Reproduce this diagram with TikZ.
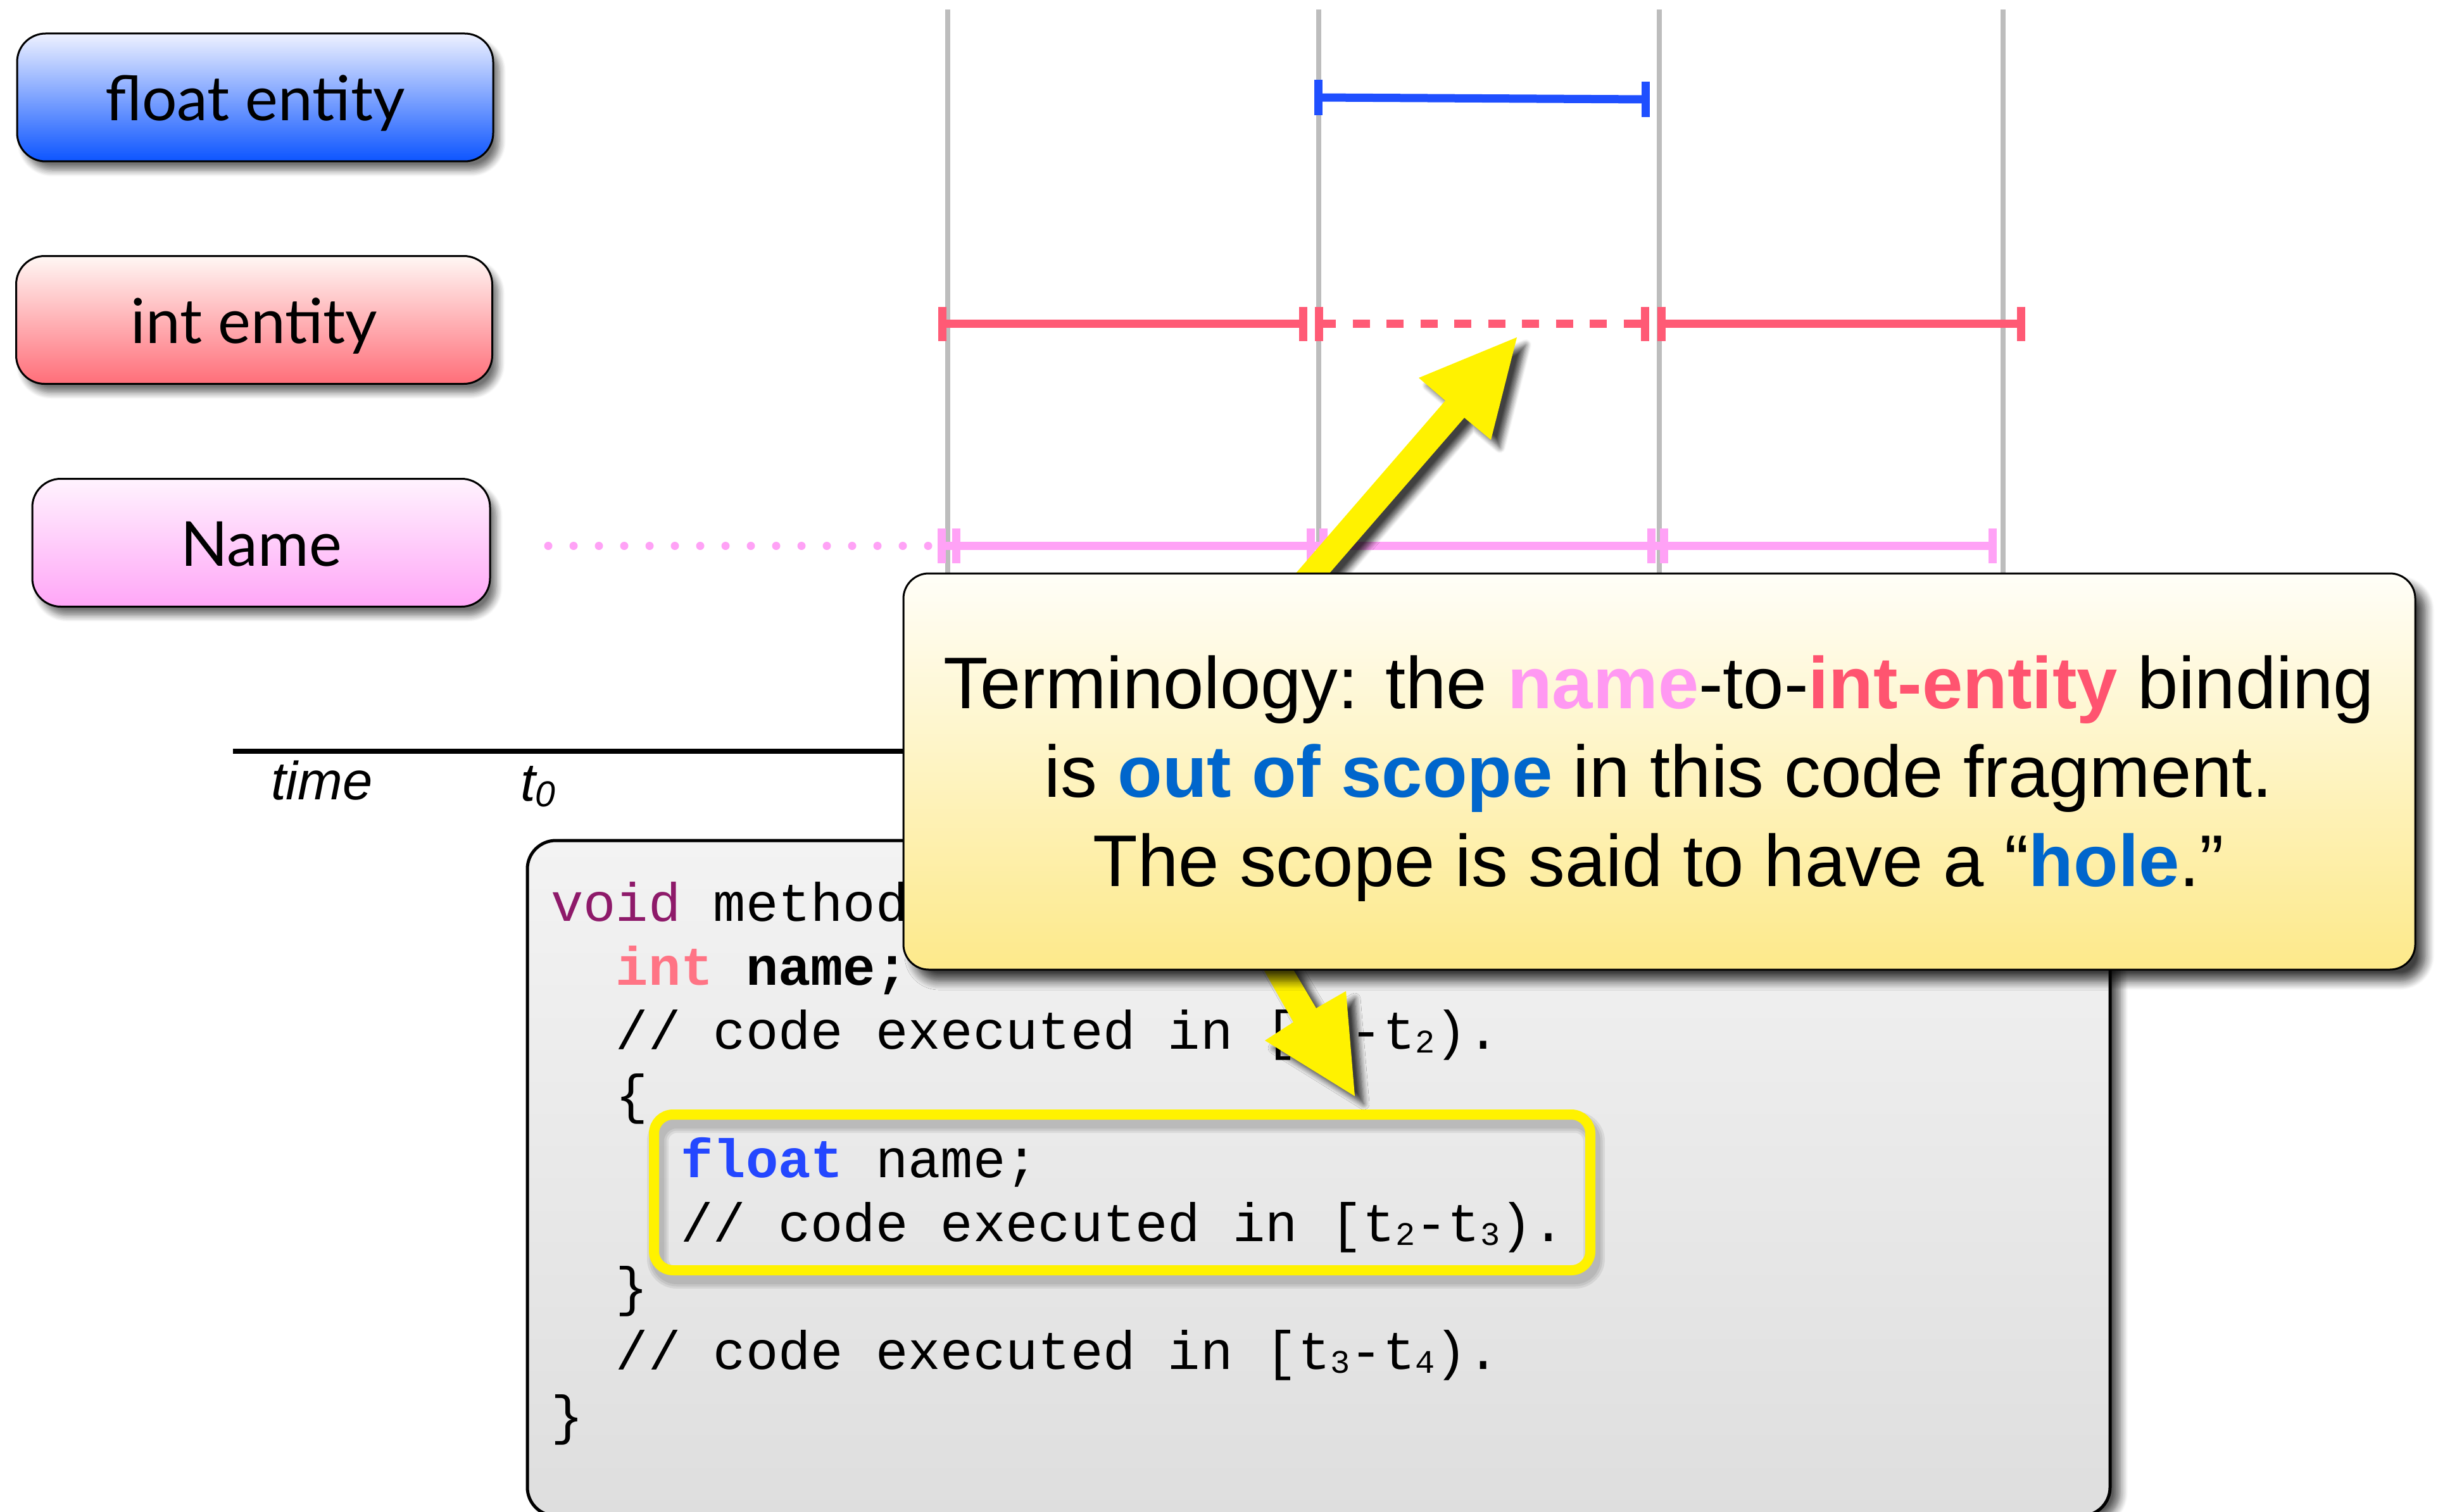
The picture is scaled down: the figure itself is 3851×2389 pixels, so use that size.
\documentclass[tikz,border=0pt]{standalone}
\usepackage{fontspec}
\setmainfont{Liberation Sans}
\setmonofont{Liberation Mono}
\newfontfamily\labelfont{Lato}
\usetikzlibrary{shadows.blur}

\definecolor{gridgray}{HTML}{BDBDBD}
\definecolor{bluebar}{HTML}{1F4FFF}
\definecolor{redbar}{HTML}{FF5A75}
\definecolor{pinkbar}{HTML}{FFA2F6}
\definecolor{floattop}{HTML}{EEF1FF}
\definecolor{floatbot}{HTML}{0D55FF}
\definecolor{inttop}{HTML}{FFF7F4}
\definecolor{intbot}{HTML}{FF6E79}
\definecolor{nametop}{HTML}{FFF3FE}
\definecolor{namebot}{HTML}{FFA6F7}
\definecolor{codetop}{HTML}{F3F3F3}
\definecolor{codebot}{HTML}{DEDEDE}
\definecolor{notetop}{HTML}{FFFEF8}
\definecolor{notemid}{HTML}{FEF4C4}
\definecolor{notebot}{HTML}{FDE98A}
\definecolor{hiyellow}{HTML}{FFF200}
\definecolor{voidpurple}{HTML}{8E1A6A}
\definecolor{intred}{HTML}{FF7485}
\definecolor{floatblue}{HTML}{2447FF}
\definecolor{namepink}{HTML}{FF99F2}
\definecolor{entityred}{HTML}{FF5470}
\definecolor{scopeblue}{HTML}{0066CC}

% lowered small digits inside the code listing
\newcommand\csub[1]{\raisebox{-6pt}{\fontsize{52}{52}\selectfont #1}}

\begin{document}
\begin{tikzpicture}[x=1pt,y=-1pt,
  gridline/.style={draw=gridgray,line width=8},
  bar/.style={line width=13},
  tickmark/.style={line width=13},
  labelbox/.style={rounded corners=45,draw=black,line width=3,
    minimum width=752,minimum height=202,inner sep=0,
    text height=80,text depth=7,
    font=\labelfont\fontsize{98}{110}\selectfont,
    blur shadow={shadow xshift=10pt,shadow yshift=-14pt,
      shadow blur radius=10pt,shadow blur steps=8,shadow opacity=55}},
  code/.style={anchor=base west,inner sep=0,
    font=\ttfamily\fontsize{85.5}{100}\selectfont},
  notetext/.style={anchor=base,inner sep=0,
    font=\fontsize{115.6}{130}\selectfont},
  axislabel/.style={anchor=base west,inner sep=0,
    font=\itshape\fontsize{85}{100}\selectfont},
  arrowshape/.style={fill=hiyellow,
    blur shadow={shadow xshift=14pt,shadow yshift=-12pt,
      shadow blur radius=9pt,shadow blur steps=8,shadow opacity=75}}
]
\useasboundingbox (0,0) rectangle (3851,2389);

% time instants
\foreach \n/\x in {0/1497,1/2083,2/2621,3/3164}{
  \coordinate (top\n) at (\x,15);
  \coordinate (bot\n) at (\x,1187);
  \draw[gridline] (top\n) -- (bot\n);
}

% float entity lifetime
\coordinate (f0) at (2082,154);
\coordinate (f1) at (2599,157);
\draw[bar,bluebar] (f0) -- (f1);
\foreach \p in {f0,f1}
  \draw[tickmark,bluebar] (\p) ++(0,-28) -- ++(0,56);

% int entity lifetime
\foreach \n/\x in {0/1488,1/2058,2/2083,3/2598,4/2624,5/3192}
  \coordinate (r\n) at (\x,511.5);
\draw[bar,redbar] (r0) -- (r1);
\draw[bar,redbar,dash pattern=on 27pt off 26.5pt] (r2) -- (r3);
\draw[bar,redbar] (r4) -- (r5);
\foreach \p in {r0,r1,r2,r3,r4,r5}
  \draw[tickmark,redbar] (\p) ++(0,-27) -- ++(0,54);

% name lifetime
\foreach \n/\x in {0/1487,1/1510,2/2070,3/2090,4/2608,5/2628,6/3147}
  \coordinate (p\n) at (\x,862.5);
\coordinate (pd0) at (866,862.5);
\coordinate (pd1) at (1472,862.5);
\draw[pinkbar,line width=13,line cap=round,dash pattern=on 0pt off 40pt] (pd0) -- (pd1);
\draw[bar,pinkbar] (p0) -- (p6);
\foreach \p in {p0,p1,p2,p3,p4,p5,p6}
  \draw[tickmark,pinkbar] (\p) ++(0,-27.5) -- ++(0,55);

% row labels
\node[labelbox,top color=floattop,bottom color=floatbot] (floatbox) at (403,154) {float entity};
\node[labelbox,top color=inttop,bottom color=intbot] (intbox) at (401.5,505.5) {int entity};
\node[labelbox,minimum width=723,top color=nametop,bottom color=namebot] (namebox) at (412.5,857.5) {Name};

% time axis
\coordinate (ax0) at (368,1187);
\coordinate (ax1) at (3300,1187);
\draw[line width=8] (ax0) -- (ax1);
\node[axislabel] (timelbl) at (428,1263) {time};
\node[axislabel] (t0lbl) at (822,1265) {t\raisebox{-9pt}{\fontsize{57}{57}\selectfont 0}};

% code listing
\node[rounded corners=45,draw=black,line width=5,top color=codetop,bottom color=codebot,
  minimum width=2500,minimum height=1067,inner sep=0,
  blur shadow={shadow xshift=16pt,shadow yshift=-8pt,shadow blur radius=12pt,
    shadow blur steps=8,shadow opacity=65}] (codebox) at (2083,1861.5) {};
\node[code] (c1) at (870,1455) {\textcolor{voidpurple}{void} method() \{};
\node[code] (c2) at (972.6,1556.25) {\textcolor{intred}{\textbf{int}} \textbf{name;}};
\node[code] (c3) at (972.6,1657.5) {// code executed in [t\csub{1}-t\csub{2}).};
\node[code] (c4) at (972.6,1758.75) {\{};
\node[code] (c5) at (1075.2,1860) {\textcolor{floatblue}{\textbf{float}} name;};
\node[code] (c6) at (1075.2,1961.25) {// code executed in [t\csub{2}-t\csub{3}).};
\node[code] (c7) at (972.6,2062.5) {\}};
\node[code] (c8) at (972.6,2163.75) {// code executed in [t\csub{3}-t\csub{4}).};
\node[code] (c9) at (870,2265) {\}};

% highlighted inner block, with a soft shadow under its outline
\foreach \w in {34,27,20}
  \draw[black,opacity=0.07,line width=\w,rounded corners=30]
    (1039,1773) rectangle (2518,2019);
\node[rounded corners=30,draw=hiyellow,line width=16,minimum width=1479,
  minimum height=246,inner sep=0] (hole) at (1772.5,1884) {};

% pointers from the note
\fill[arrowshape] (1975,1495) -- (2043,1615) -- (1998,1644) -- (2140,1732)
  -- (2126,1566) -- (2079,1593) -- (2021,1495) -- cycle;
\fill[arrowshape] (2012,946) -- (2283,633) -- (2241,597) -- (2396,533)
  -- (2355,695) -- (2313,660) -- (2065,946) -- cycle;

% note
\node[rounded corners=40,draw=black,line width=3,top color=notetop,
  middle color=notemid,bottom color=notebot,minimum width=2388,minimum height=626,
  inner sep=0,blur shadow={shadow xshift=16pt,shadow yshift=-18pt,
    shadow blur radius=14pt,shadow blur steps=10,shadow opacity=75}] (note) at (2621,1219) {};
\node[notetext] (n1) at (2620,1119) {Terminology: the
  \textcolor{namepink}{\textbf{name}}-to-\textcolor{entityred}{\textbf{int-entity}} binding};
\node[notetext] (n2) at (2620,1259) {is \textcolor{scopeblue}{\textbf{out of scope}} in this code fragment.};
\node[notetext] (n3) at (2620,1400) {The scope is said to have a “\textcolor{scopeblue}{\textbf{hole}}.”};
\end{tikzpicture}
\end{document}
